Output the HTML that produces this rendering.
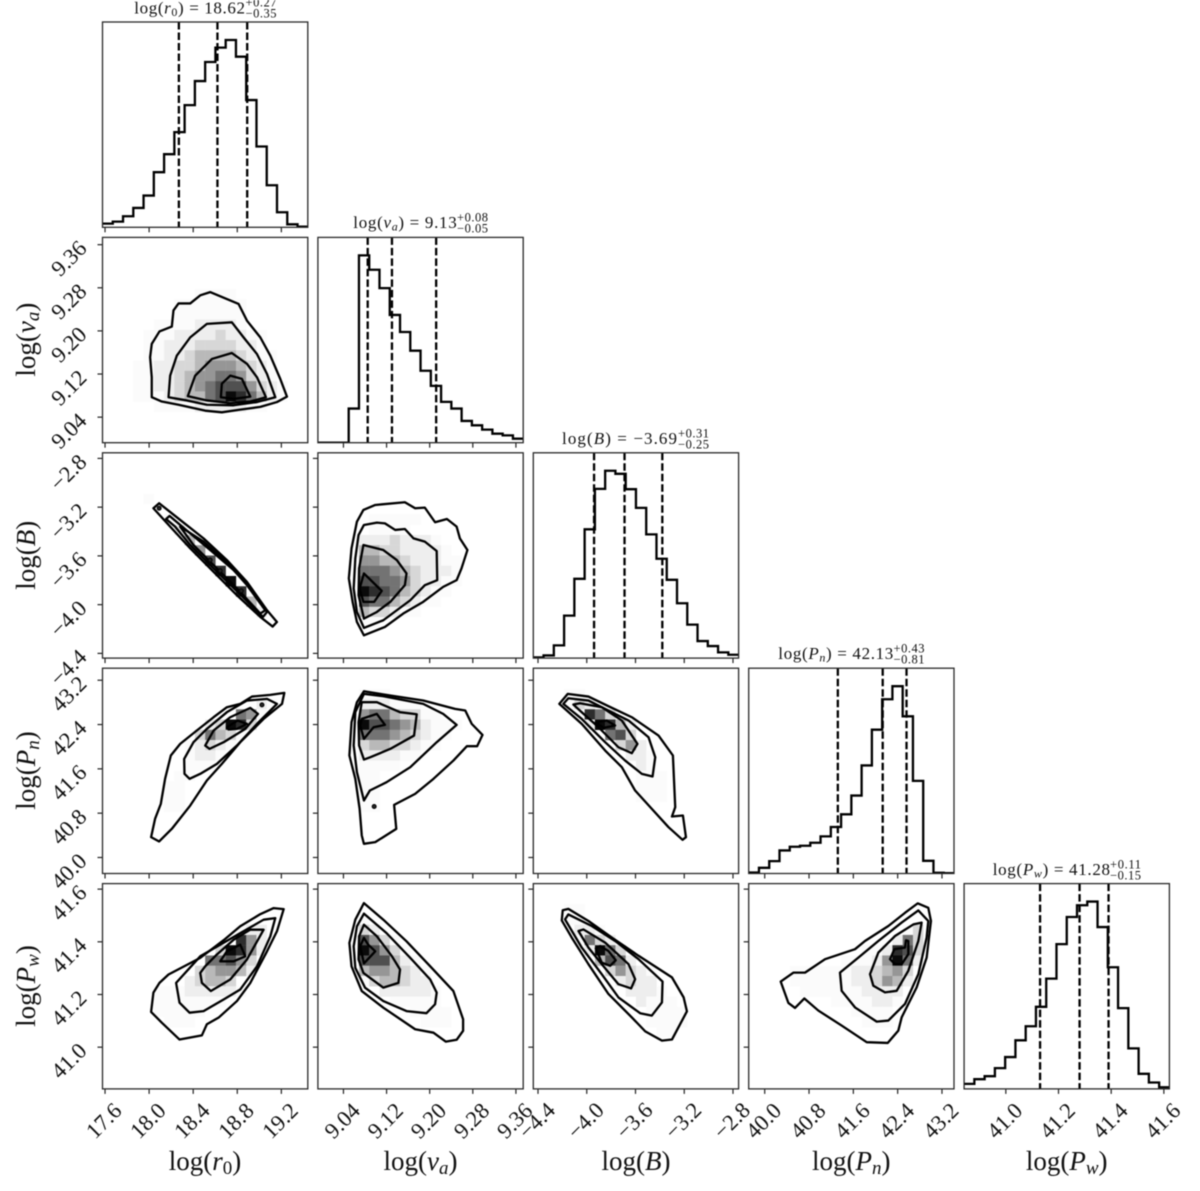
<!DOCTYPE html>
<html lang="en">
<head>
<meta charset="utf-8">
<title>Corner plot</title>
<style>
html,body{margin:0;padding:0;background:#fff;}
svg{display:block;filter:blur(0.45px);}
text{font-family:"Liberation Serif",serif;fill:#111;}
.i{font-style:italic;}
.axis-label{font-size:27px;}
.title-main{font-size:17px;}
.title-small{font-size:12.5px;}
.tick-label{font-size:22.5px;}
</style>
</head>
<body>
<svg id="corner" xmlns="http://www.w3.org/2000/svg" width="1200" height="1191" viewBox="0 0 1200 1191">
  <rect width="1200" height="1191" fill="#fff"/>
  <g id="marks"></g>
  <g id="tick-labels"></g>

  <g>
    <text class="title-main" x="134.3" y="13.3" textLength="110.7">log(<tspan class="i">r</tspan><tspan font-size="12" dy="2.5">0</tspan><tspan dy="-2.5">) = 18.62</tspan></text>
    <text class="title-small" x="245.5" y="6.7" textLength="31">+0.27</text>
    <text class="title-small" x="245.5" y="17.5" textLength="31">−0.35</text>
  </g>
  <g>
    <text class="title-main" x="353.3" y="228" textLength="103.4">log(<tspan class="i">v</tspan><tspan class="i" font-size="12" dy="2.5">a</tspan><tspan dy="-2.5">) = 9.13</tspan></text>
    <text class="title-small" x="457" y="221.7" textLength="31">+0.08</text>
    <text class="title-small" x="457" y="232.7" textLength="31">−0.05</text>
  </g>
  <g>
    <text class="title-main" x="562" y="444" textLength="115">log(<tspan class="i">B</tspan>) = −3.69</text>
    <text class="title-small" x="678" y="437.5" textLength="31">+0.31</text>
    <text class="title-small" x="678" y="448.5" textLength="31">−0.25</text>
  </g>
  <g>
    <text class="title-main" x="778.3" y="659.2" textLength="115">log(<tspan class="i">P</tspan><tspan class="i" font-size="12" dy="2.5">n</tspan><tspan dy="-2.5">) = 42.13</tspan></text>
    <text class="title-small" x="893.5" y="652.7" textLength="31">+0.43</text>
    <text class="title-small" x="893.5" y="663.7" textLength="31">−0.81</text>
  </g>
  <g>
    <text class="title-main" x="992.7" y="875" textLength="117.3">log(<tspan class="i">P</tspan><tspan class="i" font-size="12" dy="2.5">w</tspan><tspan dy="-2.5">) = 41.28</tspan></text>
    <text class="title-small" x="1110" y="868.5" textLength="31">+0.11</text>
    <text class="title-small" x="1110" y="879.5" textLength="31">−0.15</text>
  </g>

  <text class="axis-label" x="205" y="1170" text-anchor="middle">log(<tspan class="i">r</tspan><tspan font-size="19" dy="4">0</tspan><tspan dy="-4">)</tspan></text>
  <text class="axis-label" x="420.5" y="1170" text-anchor="middle">log(<tspan class="i">v</tspan><tspan class="i" font-size="19" dy="4">a</tspan><tspan dy="-4">)</tspan></text>
  <text class="axis-label" x="636" y="1170" text-anchor="middle">log(<tspan class="i">B</tspan>)</text>
  <text class="axis-label" x="851.3" y="1170" text-anchor="middle">log(<tspan class="i">P</tspan><tspan class="i" font-size="19" dy="4">n</tspan><tspan dy="-4">)</tspan></text>
  <text class="axis-label" x="1066.7" y="1170" text-anchor="middle">log(<tspan class="i">P</tspan><tspan class="i" font-size="19" dy="4">w</tspan><tspan dy="-4">)</tspan></text>

  <text class="axis-label" transform="translate(35,339.6) rotate(-90)" text-anchor="middle">log(<tspan class="i">v</tspan><tspan class="i" font-size="19" dy="4">a</tspan><tspan dy="-4">)</tspan></text>
  <text class="axis-label" transform="translate(35,555.2) rotate(-90)" text-anchor="middle">log(<tspan class="i">B</tspan>)</text>
  <text class="axis-label" transform="translate(35,770.5) rotate(-90)" text-anchor="middle">log(<tspan class="i">P</tspan><tspan class="i" font-size="19" dy="4">n</tspan><tspan dy="-4">)</tspan></text>
  <text class="axis-label" transform="translate(35,986) rotate(-90)" text-anchor="middle">log(<tspan class="i">P</tspan><tspan class="i" font-size="19" dy="4">w</tspan><tspan dy="-4">)</tspan></text>
</svg>

<script>
// ---------- axis limits and ticks ----------
const limitsR0 = [17.577, 19.44];
const limitsVa = [8.9926, 9.3735];
const limitsB = [-4.4386, -2.754];
const limitsPn = [39.711, 43.417];
const limitsPw = [40.8416, 41.621];

const ticksR0 = [17.6, 18.0, 18.4, 18.8, 19.2];
const ticksVa = [9.04, 9.12, 9.20, 9.28, 9.36];
const ticksB = [-4.4, -4.0, -3.6, -3.2, -2.8];
const ticksPn = [40.0, 40.8, 41.6, 42.4, 43.2];
const ticksPw = [41.0, 41.2, 41.4, 41.6];

const tickLabelsR0 = ["17.6", "18.0", "18.4", "18.8", "19.2"];
const tickLabelsVa = ["9.04", "9.12", "9.20", "9.28", "9.36"];
const tickLabelsB = ["−4.4", "−4.0", "−3.6", "−3.2", "−2.8"];
const tickLabelsPn = ["40.0", "40.8", "41.6", "42.4", "43.2"];
const tickLabelsPw = ["41.0", "41.2", "41.4", "41.6"];

// ---------- 1D histograms (20 bins, relative density) ----------
const histR0 = [11,17,33,58,95,165,219,285,366,438,495,538,561,511,381,242,126,45,9,2];
const histVa = [0,0,0,102,560,517,462,382,331,275,215,170,122,102,65,52,39,27,22,12];
const histB = [2,8,38,127,237,385,506,560,551,505,449,370,297,234,164,100,51,36,17,10];
const histPn = [3,17,37,69,80,83,92,111,139,177,233,323,430,521,560,470,277,38,2,1];
const histPw = [15,29,38,62,95,145,187,245,329,432,513,548,559,483,363,241,121,45,19,5];

// ---------- 16/50/84 percentiles ----------
const quantilesR0 = [18.27, 18.62, 18.89];
const quantilesVa = [9.085, 9.13, 9.212];
const quantilesB = [-3.94, -3.69, -3.38];
const quantilesPn = [41.32, 42.13, 42.56];
const quantilesPw = [41.13, 41.28, 41.39];

// ---------- 2D histograms: 20x20 density levels 0-9, one string per row from the top ----------
const heatVaR0 = ["","","","","","000000000111100","0000000111111100","0000000111111100","00000111122221","0000111222232211","0000112223333221","00001122344443211","00011223345554321","00011223455665321","000112234567775321","000111234467986421","0000011112222211","","",""];
const heatBR0 = ["","","","","00001","","0000001","00000002","000000004","0000000005","00000000007","000000000008","0000000000009","00000000000008","000000000000004","0000000000000002","","","",""];
const heatBVa = ["","","","","","","0000011111","000001111","000022232221","0000443322221","00005544322211","00006665432221","00007766532211","0000987643211","000076643211","0000433211","000011","","",""];
const heatPnR0 = ["","","","00000000000000021","0000000000000651","000000000023983","00000000036431","0000000012321","000000001221","00000000111","000000011","00000011","00000011","00000011","","","","","",""];
const heatPnVa = ["","","0000111","0000222111","000056643311","00009776542111","0000666543211","000034433211","0000222211","00001111","000011","000011","000011","000011","","","","","",""];
const heatPnB = ["","","00011","000132","00001863","0000029842","0000000673","00000000352","000000000221","000000000021","0000000000111","0000000000111","0000000000111","","","","","","",""];
const heatPwR0 = ["","","","","0000000000000122","0000000000000852","0000000000039852","000000000066753","000000000345542","0000000023443","00000111222221","000001111111","0000011111","000000111","","","","","",""];
const heatPwVa = ["","","","00001","000032","00007531","000097531","0000777421","00004554321","00001344322","000000222221","000000011111","0000000001111","0000000000111","","","","","",""];
const heatPwB = ["","","00011","00011","0000221","00001632","000002963","0000004762","000000035321","000000002322","0000000002221","00000000002111","000000000001111","000000000001111","00000000000011","","","","",""];
const heatPwPn = ["","","","","00000000000000013","00000000000000263","00000000000112873","00000000011125962","0000111111223453","0000111111223542","000001111112222","000000001111221","00000000001111","00000000000111","","","","","",""];

// ---------- contours in data coordinates [x, y] ----------
const contoursVaR0 = [
 [[18.024,9.077],[18.115,9.069],[18.267,9.063],[18.509,9.052],[18.66,9.049],[18.827,9.054],[19.009,9.059],[19.16,9.068],[19.251,9.078],[19.19,9.111],[19.1,9.154],[19.009,9.188],[18.888,9.219],[18.812,9.25],[18.706,9.259],[18.554,9.272],[18.464,9.266],[18.373,9.251],[18.267,9.251],[18.221,9.238],[18.206,9.208],[18.094,9.199],[18.024,9.176],[18.009,9.151],[18.024,9.114]],
 [[18.176,9.077],[18.191,9.117],[18.251,9.154],[18.373,9.188],[18.524,9.213],[18.751,9.216],[18.857,9.188],[18.979,9.157],[19.07,9.12],[19.145,9.077],[18.979,9.068],[18.767,9.062],[18.524,9.063],[18.342,9.071]],
 [[18.351,9.079],[18.418,9.117],[18.57,9.148],[18.751,9.159],[18.888,9.139],[18.979,9.114],[19.06,9.077],[18.918,9.069],[18.736,9.066],[18.524,9.071]],
 [[18.651,9.077],[18.66,9.102],[18.736,9.117],[18.842,9.111],[18.918,9.078],[18.767,9.074]]
];
const contoursBR0 = [
 [[18.039,-3.209],[18.091,-3.168],[18.282,-3.305],[18.494,-3.456],[18.706,-3.634],[18.888,-3.813],[19.07,-4.046],[19.16,-4.142],[19.121,-4.18],[19.009,-4.101],[18.797,-3.923],[18.615,-3.758],[18.373,-3.538],[18.191,-3.36]],
 [[18.154,-3.297],[18.185,-3.272],[18.373,-3.415],[18.554,-3.552],[18.767,-3.717],[18.888,-3.826],[19.07,-4.06],[19.033,-4.101],[18.827,-3.917],[18.585,-3.703],[18.373,-3.511],[18.236,-3.36]],
 [[18.282,-3.36],[18.494,-3.483],[18.706,-3.654],[18.888,-3.84],[19.054,-4.046],[19.009,-4.073],[18.827,-3.895],[18.615,-3.703],[18.403,-3.511]]
];
const contoursBVa = [
 [[9.078,-4.252],[9.065,-4.142],[9.057,-3.977],[9.05,-3.785],[9.055,-3.538],[9.065,-3.319],[9.077,-3.223],[9.099,-3.182],[9.154,-3.16],[9.173,-3.209],[9.191,-3.204],[9.21,-3.324],[9.232,-3.297],[9.25,-3.36],[9.256,-3.456],[9.27,-3.552],[9.259,-3.703],[9.25,-3.799],[9.225,-3.854],[9.188,-3.977],[9.151,-4.073],[9.117,-4.183]],
 [[9.078,-4.191],[9.065,-4.06],[9.059,-3.868],[9.062,-3.621],[9.068,-3.429],[9.078,-3.346],[9.102,-3.327],[9.117,-3.333],[9.136,-3.387],[9.154,-3.379],[9.17,-3.456],[9.191,-3.483],[9.213,-3.56],[9.214,-3.799],[9.191,-3.84],[9.164,-3.964],[9.114,-4.128]],
 [[9.078,-4.115],[9.068,-3.923],[9.069,-3.703],[9.077,-3.511],[9.114,-3.552],[9.139,-3.634],[9.157,-3.744],[9.154,-3.84],[9.127,-3.977],[9.102,-4.06]],
 [[9.078,-3.744],[9.111,-3.887],[9.097,-3.977],[9.077,-3.977],[9.07,-3.868]]
];
const contoursPnR0 = [
 [[18.018,40.367],[18.091,40.289],[18.206,40.517],[18.373,40.938],[18.524,41.389],[18.66,41.69],[18.827,42.081],[19.039,42.502],[19.206,42.773],[19.227,42.971],[19.1,42.935],[18.933,42.905],[18.827,42.773],[18.706,42.713],[18.585,42.532],[18.433,42.292],[18.282,42.051],[18.197,41.841],[18.145,41.42],[18.106,40.968],[18.054,40.698]],
 [[18.321,41.51],[18.318,41.78],[18.403,42.081],[18.524,42.322],[18.706,42.623],[18.888,42.833],[19.07,42.863],[19.16,42.773],[18.979,42.412],[18.797,42.021],[18.615,41.69],[18.464,41.51],[18.367,41.42]],
 [[18.509,42.021],[18.585,42.292],[18.736,42.532],[18.918,42.701],[18.988,42.592],[18.873,42.322],[18.676,42.081],[18.548,41.961]],
 [[18.706,42.352],[18.803,42.472],[18.888,42.412],[18.797,42.322],[18.721,42.31]]
];
const contoursPnVa = [
 [[9.078,40.247],[9.099,40.277],[9.138,40.517],[9.134,40.95],[9.173,41.149],[9.207,41.42],[9.244,41.75],[9.269,42.009],[9.288,42.009],[9.298,42.213],[9.278,42.412],[9.266,42.653],[9.247,42.683],[9.188,42.833],[9.127,42.923],[9.078,43.001],[9.065,42.803],[9.055,42.442],[9.051,41.841],[9.062,41.42],[9.07,40.878],[9.074,40.397]],
 [[9.078,41.029],[9.065,41.54],[9.059,42.021],[9.062,42.623],[9.078,42.953],[9.114,42.911],[9.188,42.773],[9.225,42.592],[9.25,42.394],[9.213,42.081],[9.164,41.63],[9.12,41.359],[9.089,41.209]],
 [[9.078,41.768],[9.069,42.021],[9.068,42.442],[9.074,42.803],[9.102,42.803],[9.145,42.623],[9.176,42.586],[9.171,42.201],[9.127,41.961],[9.09,41.81]],
 [[9.078,42.141],[9.071,42.382],[9.074,42.502],[9.102,42.592],[9.117,42.394],[9.096,42.352]]
];
const contoursPnB = [
 [[-4.225,42.773],[-4.156,42.953],[-3.986,42.905],[-3.822,42.731],[-3.63,42.532],[-3.411,42.201],[-3.293,41.841],[-3.274,40.908],[-3.301,40.74],[-3.211,40.758],[-3.186,40.367],[-3.214,40.319],[-3.329,40.547],[-3.466,40.878],[-3.603,41.209],[-3.712,41.63],[-3.849,41.931],[-4.041,42.412]],
 [[-4.192,42.773],[-4.151,42.875],[-3.986,42.833],[-3.822,42.653],[-3.657,42.472],[-3.493,42.171],[-3.438,41.81],[-3.46,41.462],[-3.548,41.51],[-3.685,41.75],[-3.849,42.081],[-4.041,42.502]],
 [[-4.11,42.761],[-4.055,42.785],[-3.877,42.713],[-3.712,42.472],[-3.584,42.051],[-3.63,41.883],[-3.74,41.99],[-3.904,42.352],[-4.041,42.622]],
 [[-3.926,42.442],[-3.836,42.472],[-3.767,42.382],[-3.863,42.34]]
];
const contoursPwR0 = [
 [[18.018,41.134],[18.115,41.093],[18.276,41.029],[18.479,41.045],[18.524,41.087],[18.63,41.112],[18.797,41.175],[18.918,41.244],[19.07,41.364],[19.16,41.44],[19.221,41.524],[19.13,41.528],[19.009,41.505],[18.827,41.459],[18.676,41.406],[18.464,41.339],[18.176,41.276],[18.094,41.244],[18.039,41.207]],
 [[18.245,41.244],[18.276,41.169],[18.367,41.131],[18.494,41.137],[18.676,41.181],[18.827,41.219],[18.979,41.307],[19.1,41.421],[19.145,41.49],[19.039,41.484],[18.827,41.433],[18.645,41.389],[18.464,41.345]],
 [[18.464,41.282],[18.479,41.244],[18.56,41.213],[18.736,41.257],[18.888,41.333],[19.039,41.446],[18.918,41.446],[18.767,41.408],[18.615,41.352],[18.509,41.307]],
 [[18.645,41.326],[18.706,41.364],[18.827,41.389],[18.873,41.345],[18.767,41.326]]
];
const contoursPwVa = [
 [[9.078,41.547],[9.062,41.484],[9.051,41.396],[9.055,41.307],[9.074,41.213],[9.114,41.15],[9.173,41.068],[9.207,41.055],[9.23,41.021],[9.25,41.028],[9.262,41.062],[9.262,41.106],[9.244,41.213],[9.201,41.307],[9.157,41.402],[9.114,41.484]],
 [[9.078,41.507],[9.065,41.459],[9.059,41.383],[9.062,41.301],[9.08,41.226],[9.114,41.175],[9.157,41.137],[9.194,41.129],[9.21,41.163],[9.213,41.207],[9.201,41.257],[9.164,41.339],[9.12,41.433]],
 [[9.078,41.465],[9.069,41.421],[9.068,41.333],[9.077,41.282],[9.114,41.226],[9.142,41.244],[9.145,41.295],[9.13,41.345],[9.102,41.421]],
 [[9.078,41.415],[9.071,41.383],[9.078,41.318],[9.099,41.364],[9.086,41.389]]
];
const contoursPwB = [
 [[-4.205,41.481],[-4.197,41.52],[-4.151,41.525],[-3.986,41.479],[-3.794,41.416],[-3.575,41.347],[-3.301,41.265],[-3.205,41.189],[-3.178,41.136],[-3.301,41.029],[-3.383,41.025],[-3.52,41.06],[-3.63,41.113],[-3.822,41.202],[-3.986,41.315],[-4.123,41.416]],
 [[-4.178,41.485],[-4.151,41.504],[-3.959,41.46],[-3.767,41.403],[-3.575,41.334],[-3.378,41.249],[-3.383,41.17],[-3.466,41.12],[-3.562,41.129],[-3.74,41.189],[-3.877,41.277],[-4.041,41.378]],
 [[-4.068,41.441],[-4.027,41.447],[-3.849,41.397],[-3.657,41.315],[-3.603,41.258],[-3.636,41.223],[-3.74,41.239],[-3.877,41.315],[-3.986,41.378]],
 [[-3.926,41.375],[-3.89,41.384],[-3.822,41.365],[-3.762,41.33],[-3.808,41.309],[-3.877,41.321]]
];
const contoursPwPn = [
 [[40.289,41.249],[40.427,41.168],[40.547,41.149],[40.716,41.185],[40.968,41.139],[41.389,41.082],[41.841,41.019],[42.22,41.016],[42.412,41.063],[42.472,41.113],[42.743,41.227],[42.923,41.34],[43.001,41.479],[42.953,41.529],[42.761,41.546],[42.532,41.51],[42.232,41.46],[41.81,41.403],[41.63,41.372],[41.089,41.334],[40.728,41.283],[40.517,41.283]],
 [[41.359,41.283],[41.389,41.214],[41.63,41.151],[42.021,41.097],[42.232,41.101],[42.532,41.164],[42.773,41.277],[42.923,41.416],[42.953,41.479],[42.773,41.519],[42.472,41.473],[42.051,41.403],[41.69,41.34]],
 [[41.901,41.277],[41.961,41.233],[42.171,41.208],[42.382,41.214],[42.592,41.29],[42.773,41.403],[42.833,41.473],[42.683,41.466],[42.352,41.422],[42.051,41.359]],
 [[42.262,41.334],[42.34,41.372],[42.532,41.378],[42.55,41.406],[42.592,41.403],[42.592,41.353],[42.472,41.315],[42.352,41.315]]
];

// ---------- small isolated contour islands [x, y] ----------
const islandsBR0 = [[18.091,-3.209],[18.554,-3.634],[18.645,-3.722],[18.836,-3.887]];
const islandsPnR0 = [[19.024,42.755]];
const islandsPnVa = [[9.097,40.92]];

// ---------- assemble ----------
const limits = [limitsR0, limitsVa, limitsB, limitsPn, limitsPw];
const ticks = [ticksR0, ticksVa, ticksB, ticksPn, ticksPw];
const tickLabels = [tickLabelsR0, tickLabelsVa, tickLabelsB, tickLabelsPn, tickLabelsPw];
const hists = [histR0, histVa, histB, histPn, histPw];
const quantiles = [quantilesR0, quantilesVa, quantilesB, quantilesPn, quantilesPw];
const names = ['r0', 'va', 'b', 'pn', 'pw'];
const heats = {
  '1-0': heatVaR0, '2-0': heatBR0, '2-1': heatBVa, '3-0': heatPnR0, '3-1': heatPnVa,
  '3-2': heatPnB, '4-0': heatPwR0, '4-1': heatPwVa, '4-2': heatPwB, '4-3': heatPwPn
};
const contours = {
  '1-0': contoursVaR0, '2-0': contoursBR0, '2-1': contoursBVa, '3-0': contoursPnR0, '3-1': contoursPnVa,
  '3-2': contoursPnB, '4-0': contoursPwR0, '4-1': contoursPwVa, '4-2': contoursPwB, '4-3': contoursPwPn
};
const islands = { '2-0': islandsBR0, '3-0': islandsPnR0, '3-1': islandsPnVa };

const NS = 'http://www.w3.org/2000/svg';
const originX = 102.5, originY = 22, step = 215.4, size = 205.3;
const greys = [255, 251, 238, 215, 185, 150, 115, 80, 45, 10];

function make(tag, attrs, parent) {
  const el = document.createElementNS(NS, tag);
  for (const k in attrs) el.setAttribute(k, attrs[k]);
  parent.appendChild(el);
  return el;
}
function panelLeft(col) { return originX + col * step; }
function panelTop(row) { return originY + row * step; }
function xScale(col, v) {
  const l = limits[col];
  return panelLeft(col) + (v - l[0]) / (l[1] - l[0]) * size;
}
function yScale(row, v) {
  const l = limits[row];
  return panelTop(row) + (l[1] - v) / (l[1] - l[0]) * size;
}

const marks = document.getElementById('marks');
const labelsLayer = document.getElementById('tick-labels');
const defs = make('defs', {}, marks);

function drawFrameAndTicks(g, row, col, diagonal) {
  const left = panelLeft(col), top = panelTop(row), bottom = top + size;
  ticks[col].forEach(function (t) {
    const x = xScale(col, t);
    const tick = make('line', { x1: x, x2: x, y1: bottom, y2: bottom + 5, stroke: '#222', 'stroke-width': 1.2 }, g);
    
    
  });
  if (!diagonal) {
    ticks[row].forEach(function (t) {
      const y = yScale(row, t);
      const tick = make('line', { x1: left - 5, x2: left, y1: y, y2: y, stroke: '#222', 'stroke-width': 1.2 }, g);
      
      
    });
  }
  const frame = make('rect', { x: left, y: top, width: size, height: size, fill: 'none', stroke: '#2a2a2a', 'stroke-width': 1.3 }, g);
  
  
}

function clipFor(row, col) {
  const id = 'clip-' + row + '-' + col;
  const cp = make('clipPath', { id: id }, defs);
  make('rect', { x: panelLeft(col), y: panelTop(row), width: size, height: size }, cp);
  return 'url(#' + id + ')';
}

for (let d = 0; d < 5; d++) {
  const g = make('g', {}, marks);
  
  
  const clipped = make('g', { 'clip-path': clipFor(d, d) }, g);
  const h = hists[d];
  const peak = Math.max.apply(null, h);
  const lo = limits[d][0], hi = limits[d][1];
  const bottom = panelTop(d) + size;
  const yOf = function (v) { return bottom - v / (peak * 1.096) * size; };
  let path = 'M' + xScale(d, lo).toFixed(2) + ' ' + yOf(h[0]).toFixed(2);
  h.forEach(function (v, i) {
    const right = xScale(d, lo + (i + 1) * (hi - lo) / h.length);
    path += ' L' + right.toFixed(2) + ' ' + yOf(v).toFixed(2);
    if (i < h.length - 1) path += ' L' + right.toFixed(2) + ' ' + yOf(h[i + 1]).toFixed(2);
  });
  const histPath = make('path', { d: path, fill: 'none', stroke: '#000', 'stroke-width': 2.3, 'stroke-linejoin': 'miter' }, clipped);
  
  
  quantiles[d].forEach(function (q) {
    const x = xScale(d, q);
    const line = make('line', { x1: x, x2: x, y1: panelTop(d), y2: bottom, stroke: '#000', 'stroke-width': 2.3, 'stroke-dasharray': '7.5 3' }, clipped);
    
    
  });
  drawFrameAndTicks(g, d, d, true);
}

Object.keys(heats).forEach(function (key) {
  const parts = key.split('-');
  const row = +parts[0], col = +parts[1];
  const g = make('g', {}, marks);
  
  
  const clipped = make('g', { 'clip-path': clipFor(row, col) }, g);
  const xl = limits[col], yl = limits[row];
  const bw = (xl[1] - xl[0]) / 20, bh = (yl[1] - yl[0]) / 20;
  heats[key].forEach(function (rowStr, j) {
    for (let i = 0; i < rowStr.length && i < 20; i++) {
      const level = parseInt(rowStr[i], 10);
      if (!level) continue;
      const x0 = xScale(col, xl[0] + i * bw), x1 = xScale(col, xl[0] + (i + 1) * bw);
      const y0 = yScale(row, yl[1] - j * bh), y1 = yScale(row, yl[1] - (j + 1) * bh);
      const c = greys[level];
      const cell = make('rect', { x: x0, y: y0, width: x1 - x0 + 0.2, height: y1 - y0 + 0.2, fill: 'rgb(' + c + ',' + c + ',' + c + ')' }, clipped);
      
      
    }
  });
  contours[key].forEach(function (poly) {
    const pts = poly.map(function (p) { return xScale(col, p[0]).toFixed(2) + ',' + yScale(row, p[1]).toFixed(2); }).join(' ');
    const line = make('polygon', { points: pts, fill: 'none', stroke: '#000', 'stroke-width': 2.3, 'stroke-linejoin': 'round' }, clipped);
    
    
  });
  (islands[key] || []).forEach(function (p) {
    const dot = make('circle', { cx: xScale(col, p[0]), cy: yScale(row, p[1]), r: 2, fill: '#222', stroke: '#000', 'stroke-width': 1 }, clipped);
    
    
  });
  drawFrameAndTicks(g, row, col, false);
});

for (let c = 0; c < 5; c++) {
  ticks[c].forEach(function (t, i) {
    const px = xScale(c, t) + 4, py = 1126;
    const label = make('text', { class: 'tick-label', 'text-anchor': 'middle', transform: 'translate(' + px.toFixed(2) + ',' + py + ') rotate(-45)' }, labelsLayer);
    
    
    label.textContent = tickLabels[c][i];
  });
}
for (let r = 1; r < 5; r++) {
  ticks[r].forEach(function (t, i) {
    const py = yScale(r, t) + 5;
    const label = make('text', { class: 'tick-label', 'text-anchor': 'end', transform: 'translate(88,' + py.toFixed(2) + ') rotate(-45)' }, labelsLayer);
    
    
    label.textContent = tickLabels[r][i];
  });
}
</script>
</body>
</html>
